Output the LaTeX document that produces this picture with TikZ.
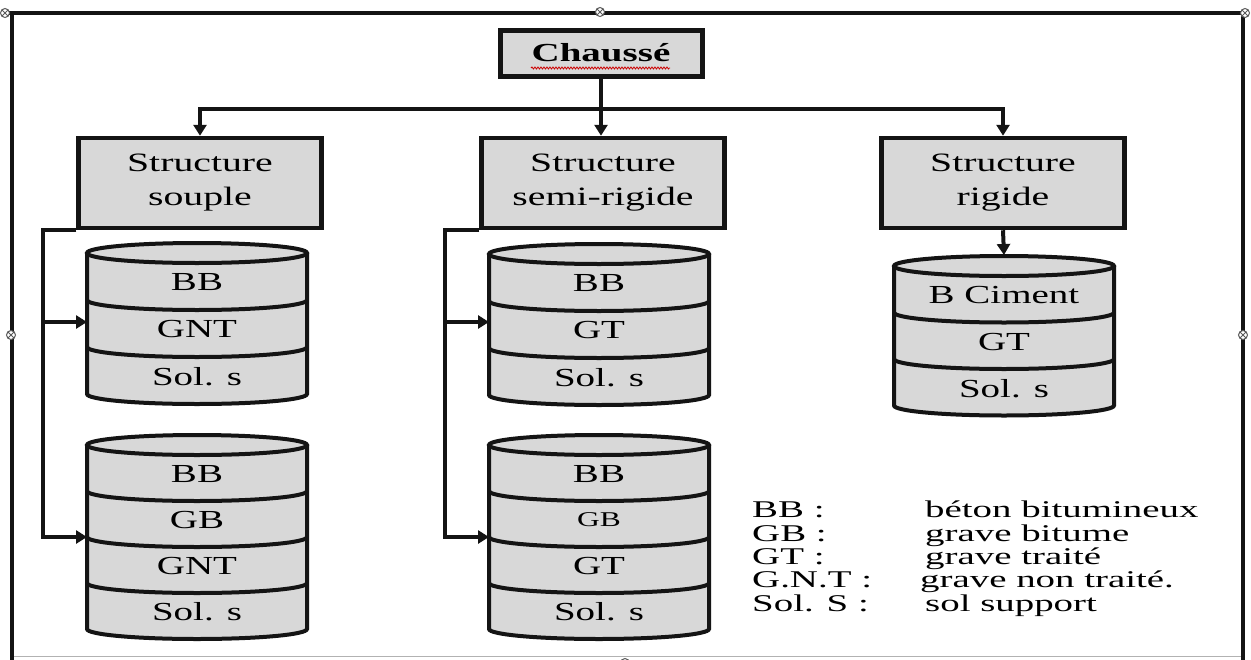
\documentclass[tikz,border=0pt]{standalone}
\usepackage{fontspec}
\setmainfont{Liberation Serif}[FakeStretch=1.5]
\newfontfamily\legfont{Liberation Serif}[FakeStretch=1.62]
\usetikzlibrary{arrows.meta,decorations.pathmorphing}
\definecolor{boxgray}{RGB}{216,216,216}
\definecolor{inkblack}{RGB}{20,20,20}
\definecolor{handlegray}{RGB}{90,90,90}
\tikzset{
  conn/.style={line width=4pt,draw=inkblack},
  arr/.style={conn,-{Triangle[length=11pt,width=13pt]}},
  sbox/.style={draw=inkblack,line width=4.5pt,fill=boxgray,minimum width=243pt,minimum height=90pt,
    align=center,font=\fontsize{26.5}{34}\selectfont,inner sep=0pt},
  topbox/.style={draw=inkblack,line width=5pt,fill=boxgray,minimum width=202pt,minimum height=46pt,
    font=\bfseries\fontsize{26}{30}\selectfont,inner sep=0pt},
  cylline/.style={line width=4pt,draw=inkblack},
  cyltext/.style={font=\fontsize{26}{28}\selectfont,inner sep=0pt},
  legtext/.style={font=\legfont\fontsize{24}{24}\selectfont,anchor=base west,inner sep=0pt},
  frameline/.style={draw=inkblack,line width=3.5pt},
  handleline/.style={draw=handlegray,line width=1pt,fill=white},
  pics/layercyl/.style n args={3}{code={
    \pgfmathsetmacro\cylH{#1*#2}
    \pgfmathtruncatemacro\cylN{#2-1}
    \fill[boxgray] (-110,0) -- (-110,\cylH) arc[start angle=180,end angle=360,x radius=110pt,y radius=10pt] -- (110,0) -- cycle;
    \draw[cylline] (-110,0) -- (-110,\cylH) arc[start angle=180,end angle=360,x radius=110pt,y radius=10pt] -- (110,0);
    \foreach \k in {1,...,\cylN}
      \draw[cylline] (-110,{\k*#1}) arc[start angle=180,end angle=360,x radius=110pt,y radius=10pt];
    \draw[cylline,fill=boxgray] (0,0) ellipse[x radius=110pt,y radius=10pt];
    \foreach \t [count=\i] in {#3}
      \node[cyltext] (-l\i) at (0,{(\i-0.5)*#1+6}) {\t};
  }},
  pics/handle/.style={code={
    \draw[handleline] (0,0) circle[radius=4.5pt];
    \draw[handleline] (-3.1,-3.1) -- (3.1,3.1) (-3.1,3.1) -- (3.1,-3.1);
  }}
}
\begin{document}
\begin{tikzpicture}[x=1pt,y=-1pt]
\useasboundingbox (0,0) rectangle (1251,659);
\fill[white] (0,0) rectangle (1251,659);
% outer frame
\draw[draw=gray!60,line width=1pt] (12,656) -- (1243,656);
\draw[frameline] (12,13) -- (12,662);
\draw[frameline] (1243,13) -- (1243,662);
\draw[frameline,line width=4pt] (5,13) -- (1245,13);
\pic at (5,13) {handle};
\pic at (600,12) {handle};
\pic at (1245,13) {handle};
\pic at (11,335) {handle};
\pic at (1243,335) {handle};
\pic at (625,663) {handle};

% top box
\node[topbox] (ch) at (601,53) {Chaussé};
\draw[red!80!black,line width=0.8pt,decorate,decoration={snake,amplitude=1pt,segment length=3pt}] (531,68) -- (670,68);

% structure boxes
\node[sbox] (s1) at (200,183) {Structure\\souple};
\node[sbox] (s2) at (603,183) {Structure\\semi-rigide};
\node[sbox] (s3) at (1003,183) {Structure\\rigide};

\path (ch.south) ++(0,30) coordinate (hub);
\draw[conn] (ch.south) -- (hub);
\draw[arr] (hub) -| (s1.north);
\draw[arr] (hub) -- (hub |- s2.north);
\draw[arr] (hub) -| (s3.north);

% cylinders
\pic (c1) at (197,253) {layercyl={47}{3}{BB,GNT,Sol. s}};
\pic (c2) at (197,445) {layercyl={46}{4}{BB,GB,GNT,Sol. s}};
\pic (c3) at (599,254) {layercyl={47}{3}{BB,GT,Sol. s}};
\pic (c4) at (599,445) {layercyl={46}{4}{BB,{\fontsize{21}{21}\selectfont GB},GT,Sol. s}};
\pic (c5) at (1004,266) {layercyl={46.5}{3}{B Ciment,GT,Sol. s}};

% connector targets
\coordinate (c1in) at (87,322);
\coordinate (c2in) at (87,537);
\coordinate (c3in) at (489,322);
\coordinate (c4in) at (489,537);
\coordinate (c5top) at (1004,255);
\coordinate (j1a) at (43,322);
\coordinate (j1b) at (43,537);
\coordinate (j2a) at (445,322);
\coordinate (j2b) at (445,537);

\draw[arr] (s1.south west) -| (j1b) -- (c2in);
\draw[arr] (j1a) -- (c1in);
\draw[arr] (s2.south west) -| (j2b) -- (c4in);
\draw[arr] (j2a) -- (c3in);
\draw[arr] (s3.south) -- (c5top);

% legend
\node[legtext] (k1) at (752,517) {BB :};
\node[legtext] (k2) at (752,541) {GB :};
\node[legtext] (k3) at (752,564) {GT :};
\node[legtext] (k4) at (752,587) {G.N.T :};
\node[legtext] (k5) at (752,611) {Sol. S :};
\node[legtext] (v1) at (925,517) {béton bitumineux};
\node[legtext] (v2) at (925,541) {grave bitume};
\node[legtext] (v3) at (925,564) {grave traité};
\node[legtext] (v4) at (920,587) {grave non traité.};
\node[legtext] (v5) at (925,611) {sol support};
\end{tikzpicture}
\end{document}
